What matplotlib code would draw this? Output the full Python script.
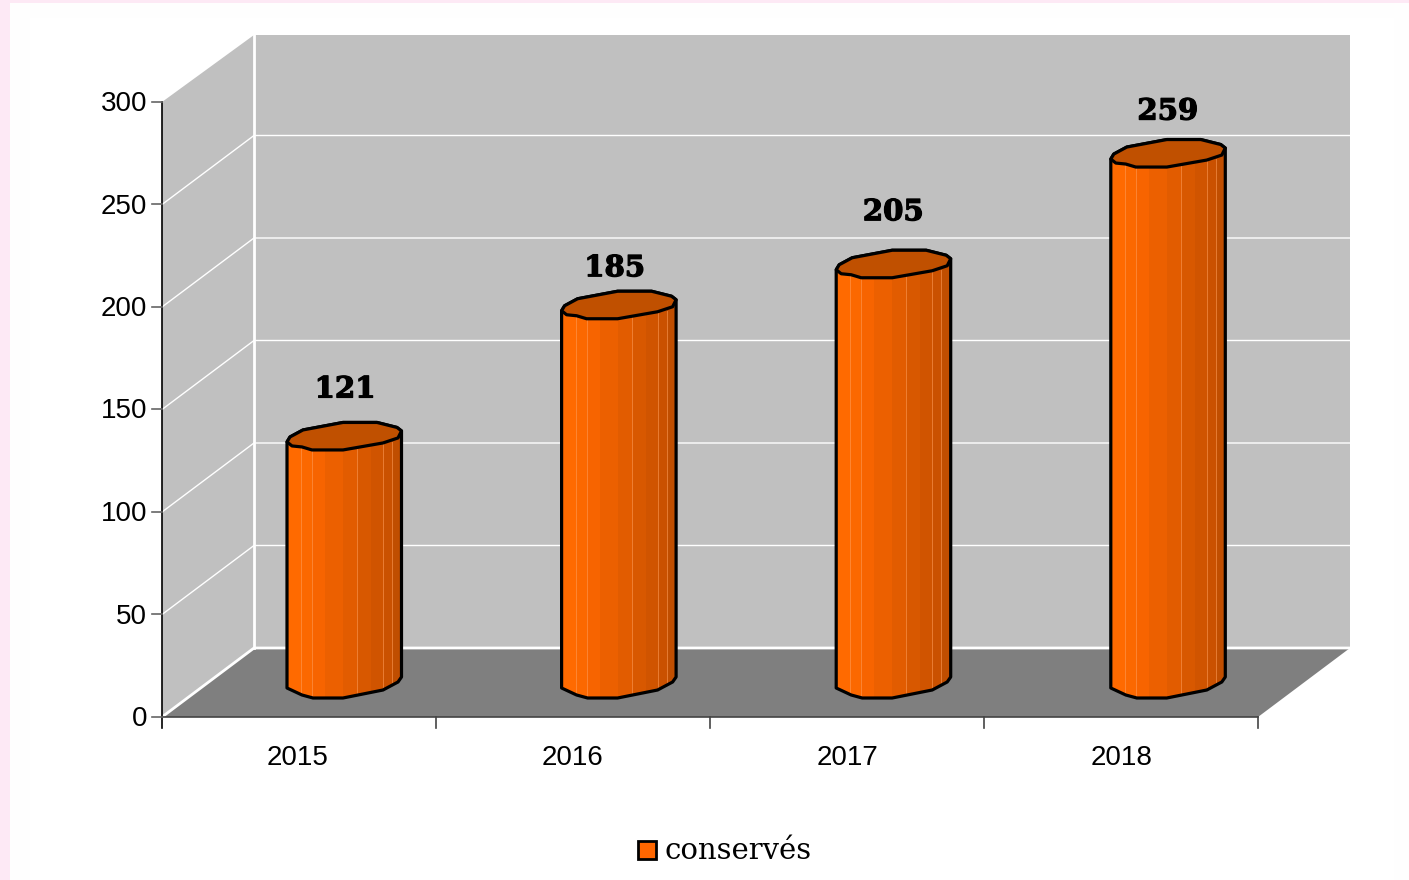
import numpy as np
import matplotlib
matplotlib.use("Agg")
import matplotlib.pyplot as plt
import matplotlib.patheffects as pe
from matplotlib.patches import Polygon, Rectangle

years = ["2015", "2016", "2017", "2018"]
conserves = [121, 185, 205, 259]
y_ticks = [0, 50, 100, 150, 200, 250, 300]
series_name = "conservés"

# picture geometry, in pixels
W, H = 1409, 880
X0, X1 = 162, 1258
Y0 = 717
PX_PER_UNIT = 2.05
DX, DY = 92, -69
BAR_STEP = 274.6
BASE_LIFT = 27

# the value labels do not sit at a constant distance from the bars
label_shift = [(0, 0), (-5, 10), (-1, -5), (-1, 5)]


def val_y(v):
    return Y0 - v * PX_PER_UNIT


fig = plt.figure(figsize=(W / 100, H / 100), dpi=100, facecolor="#fde9f5")
ax = fig.add_axes([0, 0, 1, 1])
ax.set_xlim(0, W)
ax.set_ylim(H, 0)
ax.axis("off")

ax.add_patch(Rectangle((10, 3), W, H, fc="#fefefe", ec="none", zorder=0))
ax.add_patch(Rectangle((30, 18), W - 45, H, fc="#ffffff", ec="none", zorder=0))

top = val_y(300)
wall_top = top + DY + 2
# walls and floor
ax.add_patch(Polygon([(X0, Y0), (X0, top), (X0 + DX, wall_top), (X0 + DX, Y0 + DY)], fc="#c0c0c0", ec="none", zorder=1))
ax.add_patch(Rectangle((X0 + DX, wall_top), X1 - X0, Y0 + DY - wall_top, fc="#c0c0c0", ec="none", zorder=1))
ax.add_patch(Polygon([(X0, Y0), (X1, Y0), (X1 + DX, Y0 + DY), (X0 + DX, Y0 + DY)], fc="#7f7f7f", ec="none", zorder=1))

# gridlines
for v in y_ticks[1:-1]:
    y = val_y(v)
    ax.plot([X0, X0 + DX, X1 + DX], [y, y + DY, y + DY], color="white", lw=1, zorder=2)
ax.plot([X0, X0 + DX, X1 + DX], [Y0, Y0 + DY, Y0 + DY], color="white", lw=2, zorder=2)
ax.plot([X0 + DX, X0 + DX], [wall_top, Y0 + DY], color="white", lw=2, zorder=2)

# axes and ticks
ax.plot([X0, X0], [top, Y0 + 11], color="black", lw=1.2, zorder=3)
ax.plot([X0, X1], [Y0, Y0], color="#444444", lw=1.2, zorder=3)
for v in y_ticks:
    ax.plot([X0 - 10, X0], [val_y(v), val_y(v)], color="#666666", lw=1.2, zorder=3)
    ax.text(X0 - 15, val_y(v) + 2, str(v), ha="right", va="center", fontsize=20,
            family="Liberation Sans", color="black")
slot = (X1 - X0) / len(years)
for i in range(1, len(years) + 1):
    ax.plot([X0 + i * slot] * 2, [Y0, Y0 + 11], color="#444444", lw=1.2, zorder=3)

# outline of one bar, offsets from its left edge
bottom_shape = [(0, -2), (15, 5), (26, 8), (56, 8), (71, 5), (96, 0), (111, -8), (114.5, -13)]
lid_back = [(0, 0), (3, -5), (16, -12), (56, -19.5), (90, -19.5), (110, -14.5), (114.5, -11)]
lid_front = [(114.5, -11), (111, -4), (96, 1), (56, 8), (25, 8), (15, 5), (5, 4), (0, 0)]

facet_x = [0, 14, 25, 38, 56, 70, 84, 96, 105, 114.5]
facet_col = ["#ff6a00", "#fb6800", "#f76400", "#ec6000", "#e25c00", "#d85800", "#d05400", "#ca5100", "#c04e00"]
light_x = [14, 25, 70, 96, 105]

for i, v in enumerate(conserves):
    left = X0 + 125 + BAR_STEP * i
    y_top = val_y(v) - BASE_LIFT
    y_base = Y0 - BASE_LIFT
    outline = [(left + a, y_base + b) for a, b in bottom_shape]
    outline += [(left + a, y_top + b) for a, b in lid_back[::-1]]
    body = Polygon(outline, closed=True, fc="none", ec="none", zorder=4)
    ax.add_patch(body)
    for j, c in enumerate(facet_col):
        r = Rectangle((left + facet_x[j], y_top - 30), facet_x[j + 1] - facet_x[j] + 0.5,
                      y_base - y_top + 50, fc=c, ec="none", zorder=4)
        ax.add_patch(r)
        r.set_clip_path(body)
    for lx in light_x:
        ln, = ax.plot([left + lx] * 2, [y_top, y_base + 10], color="#ff9a55", lw=0.7, alpha=0.6, zorder=4)
        ln.set_clip_path(body)
    ax.add_patch(Polygon(outline, closed=True, fc="none", ec="black", lw=2.3, joinstyle="round", zorder=5))
    lid = [(left + a, y_top + b) for a, b in lid_back + lid_front[1:]]
    ax.add_patch(Polygon(lid, closed=True, fc="#c05000", ec="black", lw=2.3, joinstyle="round", zorder=6))
    sx, sy = label_shift[i]
    t = ax.text(left + 58 + sx, y_top - 53 + sy, str(v), ha="center", va="center", fontsize=21,
                family="DejaVu Serif", weight="bold", color="black", zorder=7)
    t.set_path_effects([pe.withStroke(linewidth=0.9, foreground="black")])
    ax.text(X0 + 136 + BAR_STEP * i, Y0 + 41, years[i], ha="center", va="center", fontsize=20,
            family="Liberation Sans", color="black")

# legend
ax.add_patch(Rectangle((638, 841), 17.5, 18, fc="#ff6600", ec="black", lw=2, zorder=5))
ax.text(665, 851, series_name, ha="left", va="center", fontsize=21, family="DejaVu Serif", color="black")

fig.savefig("out.png", dpi=100, facecolor=fig.get_facecolor())
